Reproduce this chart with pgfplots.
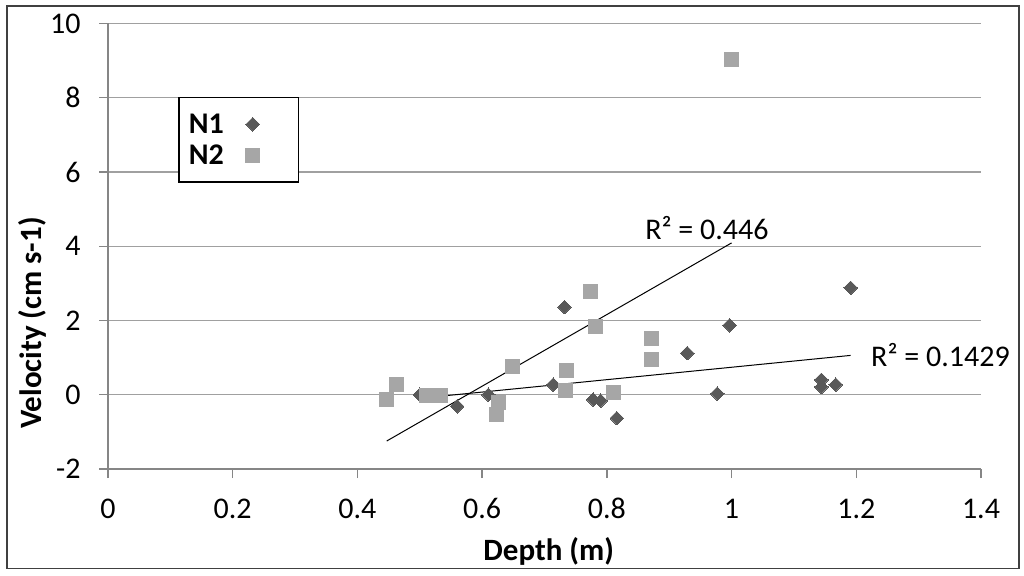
\documentclass[border=0pt]{standalone}
\usepackage{fontspec}
\setmainfont{Carlito}
\usepackage{pgfplots}
\pgfplotsset{compat=1.18}

\definecolor{nOne}{RGB}{89,89,89}
\definecolor{nTwo}{RGB}{166,166,166}
\definecolor{gridc}{RGB}{160,160,160}
\definecolor{axisc}{RGB}{134,134,134}
\definecolor{framec}{RGB}{64,64,64}

% legend: marker only, drawn to the right of the text, with room around it
\pgfplotsset{lgimg/.style={legend image code/.code={%
  \draw[##1, draw=none, mark repeat=2, mark phase=2] plot coordinates {(0pt,0pt) (27pt,0pt) (54pt,0pt)};
  \path[draw=none, fill=none] (0pt,0pt) -- (65pt,0pt);}}}

\begin{document}
\begin{tikzpicture}
\begin{axis}[
    at={(0pt,0pt)}, anchor=south west,
    scale only axis,
    width=873pt, height=445.5pt,
    xmin=0, xmax=1.4,
    ymin=-2, ymax=10,
    xtick={0,0.2,0.4,0.6,0.8,1,1.2,1.4},
    ytick={-2,0,2,4,6,8,10},
    axis lines*=left,
    axis line style={draw=axisc, line width=1.3pt},
    tick style={draw=axisc, line width=1.3pt},
    tick align=outside,
    major tick length=9pt,
    ymajorgrids,
    major grid style={draw=gridc, line width=1.3pt},
    /pgf/number format/assume math mode=true,
    ticklabel style={font=\fontsize{30}{35}\selectfont},
    xticklabel style={anchor=base, yshift=-40pt},
    yticklabel style={anchor=east, xshift=-15pt},
    xlabel={Depth (m)},
    ylabel={Velocity (cm s-1)},
    label style={font=\bfseries\fontsize{31}{36}\selectfont},
    x label style={at={(axis description cs:0.5048,-0.184)}, anchor=center},
    y label style={at={(axis description cs:-0.0871,0.3277)}, anchor=center, rotate=0},
    legend plot pos=right,
    legend style={
        at={(axis description cs:0.0802,0.835)}, anchor=north west,
        draw=black, line width=1.5pt, fill=white,
        font=\bfseries\fontsize{30}{35}\selectfont,
        inner xsep=8pt, inner ysep=14pt, row sep=6pt,
    },
    clip=false,
]

% N1 (diamonds)
\addplot[only marks, mark=square*, mark size=4.8pt,
    mark options={rotate=45, fill=nOne, draw=nOne, line width=0pt}, lgimg]
coordinates {
(0.500,0.00) (0.560,-0.31) (0.610,0.00) (0.714,0.27) (0.732,2.36)
(0.778,-0.13) (0.790,-0.16) (0.816,-0.63) (0.929,1.12) (0.977,0.03)
(0.997,1.87) (1.144,0.40) (1.144,0.21) (1.167,0.27) (1.191,2.88)
};
\addlegendentry{N1}

% N2 (squares)
\addplot[only marks, mark=square*, mark size=7pt,
    mark options={fill=nTwo, draw=nTwo, line width=0pt}, lgimg]
coordinates {
(0.446,-0.13) (0.462,0.27) (0.511,-0.03) (0.522,-0.03) (0.534,-0.03)
(0.623,-0.52) (0.627,-0.21) (0.648,0.75) (0.734,0.12) (0.736,0.64)
(0.774,2.78) (0.782,1.84) (0.810,0.05) (0.871,1.52) (0.871,0.96)
(1.000,9.03)
};
\addlegendentry{N2}

% trend lines
\addplot[black, line width=1pt, forget plot] coordinates {(0.447,-1.246) (1.000,4.09)};
\addplot[black, line width=1pt, forget plot] coordinates {(0.503,-0.09) (1.191,1.06)};

\node[font=\fontsize{30}{35}\selectfont] at (axis cs:0.9605,4.49) {R² = 0.446};
\node[font=\fontsize{30}{35}\selectfont] at (axis cs:1.335,1.07) {R² = 0.1429};
\end{axis}

\draw[framec, line width=1.5pt] (-101pt,-99.5pt) rectangle (911pt,463pt);
\pgfresetboundingbox
\path (-108pt,-106pt) rectangle (916pt,469pt);
\end{tikzpicture}
\end{document}
